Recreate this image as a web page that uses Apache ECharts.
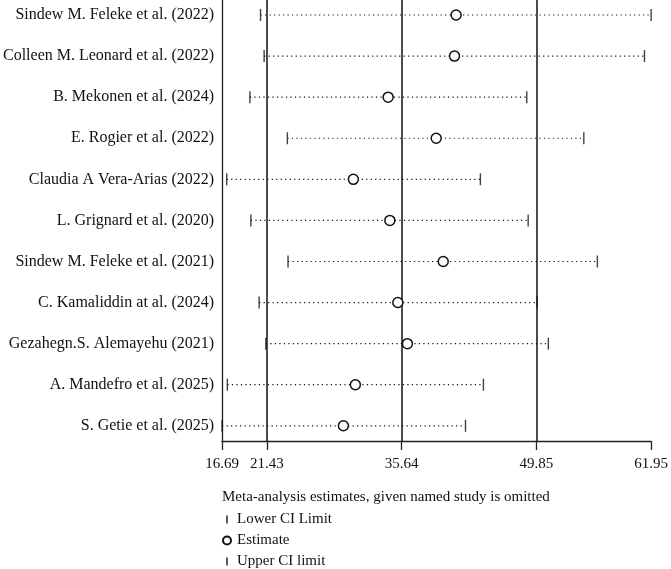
<!DOCTYPE html>
<html>
<head>
<meta charset="utf-8">
<script src="https://cdn.jsdelivr.net/npm/echarts@6/dist/echarts.min.js"></script>
<style>
  html, body { margin: 0; padding: 0; background: #fff; }
  #chart { width: 671px; height: 569px; }
</style>
</head>
<body>
<div id="chart"></div>
<script>
// 研究名称 (从上到下)
const studies = [
  'Sindew M. Feleke et al. (2022)',
  'Colleen M. Leonard et al. (2022)',
  'B. Mekonen et al. (2024)',
  'E. Rogier et al. (2022)',
  'Claudia A Vera-Arias (2022)',
  'L. Grignard et al. (2020)',
  'Sindew M. Feleke et al. (2021)',
  'C. Kamaliddin at al. (2024)',
  'Gezahegn.S. Alemayehu (2021)',
  'A. Mandefro et al. (2025)',
  'S. Getie et al. (2025)'
];
const lowerCI  = [20.75, 21.13, 19.63, 23.58, 17.18, 19.73, 23.65, 20.60, 21.31, 17.25, 16.69];
const estimate = [41.38, 41.21, 34.21, 39.28, 30.54, 34.39, 40.02, 35.23, 36.24, 30.75, 29.49];
const upperCI  = [61.95, 61.25, 48.83, 54.85, 43.94, 48.98, 56.28, 49.92, 51.11, 44.26, 42.37];
// 合并估计值 (下限, 估计, 上限)
const pooled = [21.43, 35.64, 49.85];
const xTicks = [16.69, 21.43, 35.64, 49.85, 61.95];

const serif = '"Liberation Serif", "DejaVu Serif", serif';
const rows = studies.map((s, i) => i);

let myChart = echarts.init(document.getElementById('chart'));
let Options = {
  animation: false,
  title: {
    text: 'Meta-analysis estimates, given named study is omitted',
    left: 222,
    top: 490,
    padding: 0,
    textStyle: { fontFamily: serif, fontSize: 15, fontWeight: 'normal', color: '#111' }
  },
  legend: {
    orient: 'vertical',
    left: 222,
    top: 512,
    padding: 0,
    itemWidth: 10,
    itemHeight: 8,
    itemGap: 6,
    textStyle: { fontFamily: serif, fontSize: 15, color: '#111', lineHeight: 15 },
    data: [
      { name: 'Lower CI Limit', icon: 'path://M0,0h1.5v7h-1.5z' },
      { name: 'Estimate', icon: 'circle' },
      { name: 'Upper CI limit', icon: 'path://M0,0h1.5v7h-1.5z' }
    ]
  },
  grid: { left: 222, right: 18, top: 0, bottom: 128 },
  xAxis: {
    type: 'value',
    min: 16.69,
    max: 61.95,
    splitLine: { show: false },
    axisLine: { onZero: false, lineStyle: { color: '#222', width: 1.3 } },
    axisTick: { customValues: xTicks, length: 9, lineStyle: { color: '#222', width: 1.3 } },
    axisLabel: {
      customValues: xTicks,
      formatter: v => v.toFixed(2),
      margin: 16,
      fontFamily: serif,
      fontSize: 15,
      color: '#111'
    }
  },
  yAxis: {
    type: 'value',
    inverse: true,
    min: -0.365,
    max: 10.37,
    splitLine: { show: false },
    axisLine: { show: true, onZero: false, lineStyle: { color: '#222', width: 1.3 } },
    axisTick: { show: false },
    axisLabel: {
      customValues: rows,
      formatter: v => studies[Math.round(v)],
      margin: 8,
      fontFamily: serif,
      fontSize: 16,
      color: '#111'
    }
  },
  series: [
    {
      name: 'CI',
      type: 'custom',
      silent: true,
      encode: { x: [0, 1], y: 2 },
      data: rows.map(i => [lowerCI[i], upperCI[i], i]),
      renderItem: function (params, api) {
        let p1 = api.coord([api.value(0), api.value(2)]);
        let p2 = api.coord([api.value(1), api.value(2)]);
        return {
          type: 'line',
          shape: { x1: p1[0], y1: p1[1], x2: p2[0], y2: p2[1] },
          style: { stroke: '#111', lineWidth: 1.2, lineDash: [1.2, 3.3] }
        };
      }
    },
    {
      name: 'Lower CI Limit',
      type: 'scatter',
      symbol: 'rect',
      symbolSize: [1.4, 12],
      itemStyle: { color: '#111' },
      data: rows.map(i => [lowerCI[i], i])
    },
    {
      name: 'Upper CI limit',
      type: 'scatter',
      symbol: 'rect',
      symbolSize: [1.4, 12],
      itemStyle: { color: '#111' },
      data: rows.map(i => [upperCI[i], i])
    },
    {
      name: 'Estimate',
      type: 'scatter',
      symbol: 'circle',
      symbolSize: 10,
      z: 5,
      itemStyle: { color: '#fff', borderColor: '#111', borderWidth: 1.5, opacity: 1 },
      data: rows.map(i => [estimate[i], i]),
      markLine: {
        silent: true,
        symbol: 'none',
        label: { show: false },
        lineStyle: { color: '#111', width: 1.5, type: 'solid' },
        data: pooled.map(v => ({ xAxis: v }))
      }
    }
  ]
};
myChart.setOption(Options);
</script>
</body>
</html>
